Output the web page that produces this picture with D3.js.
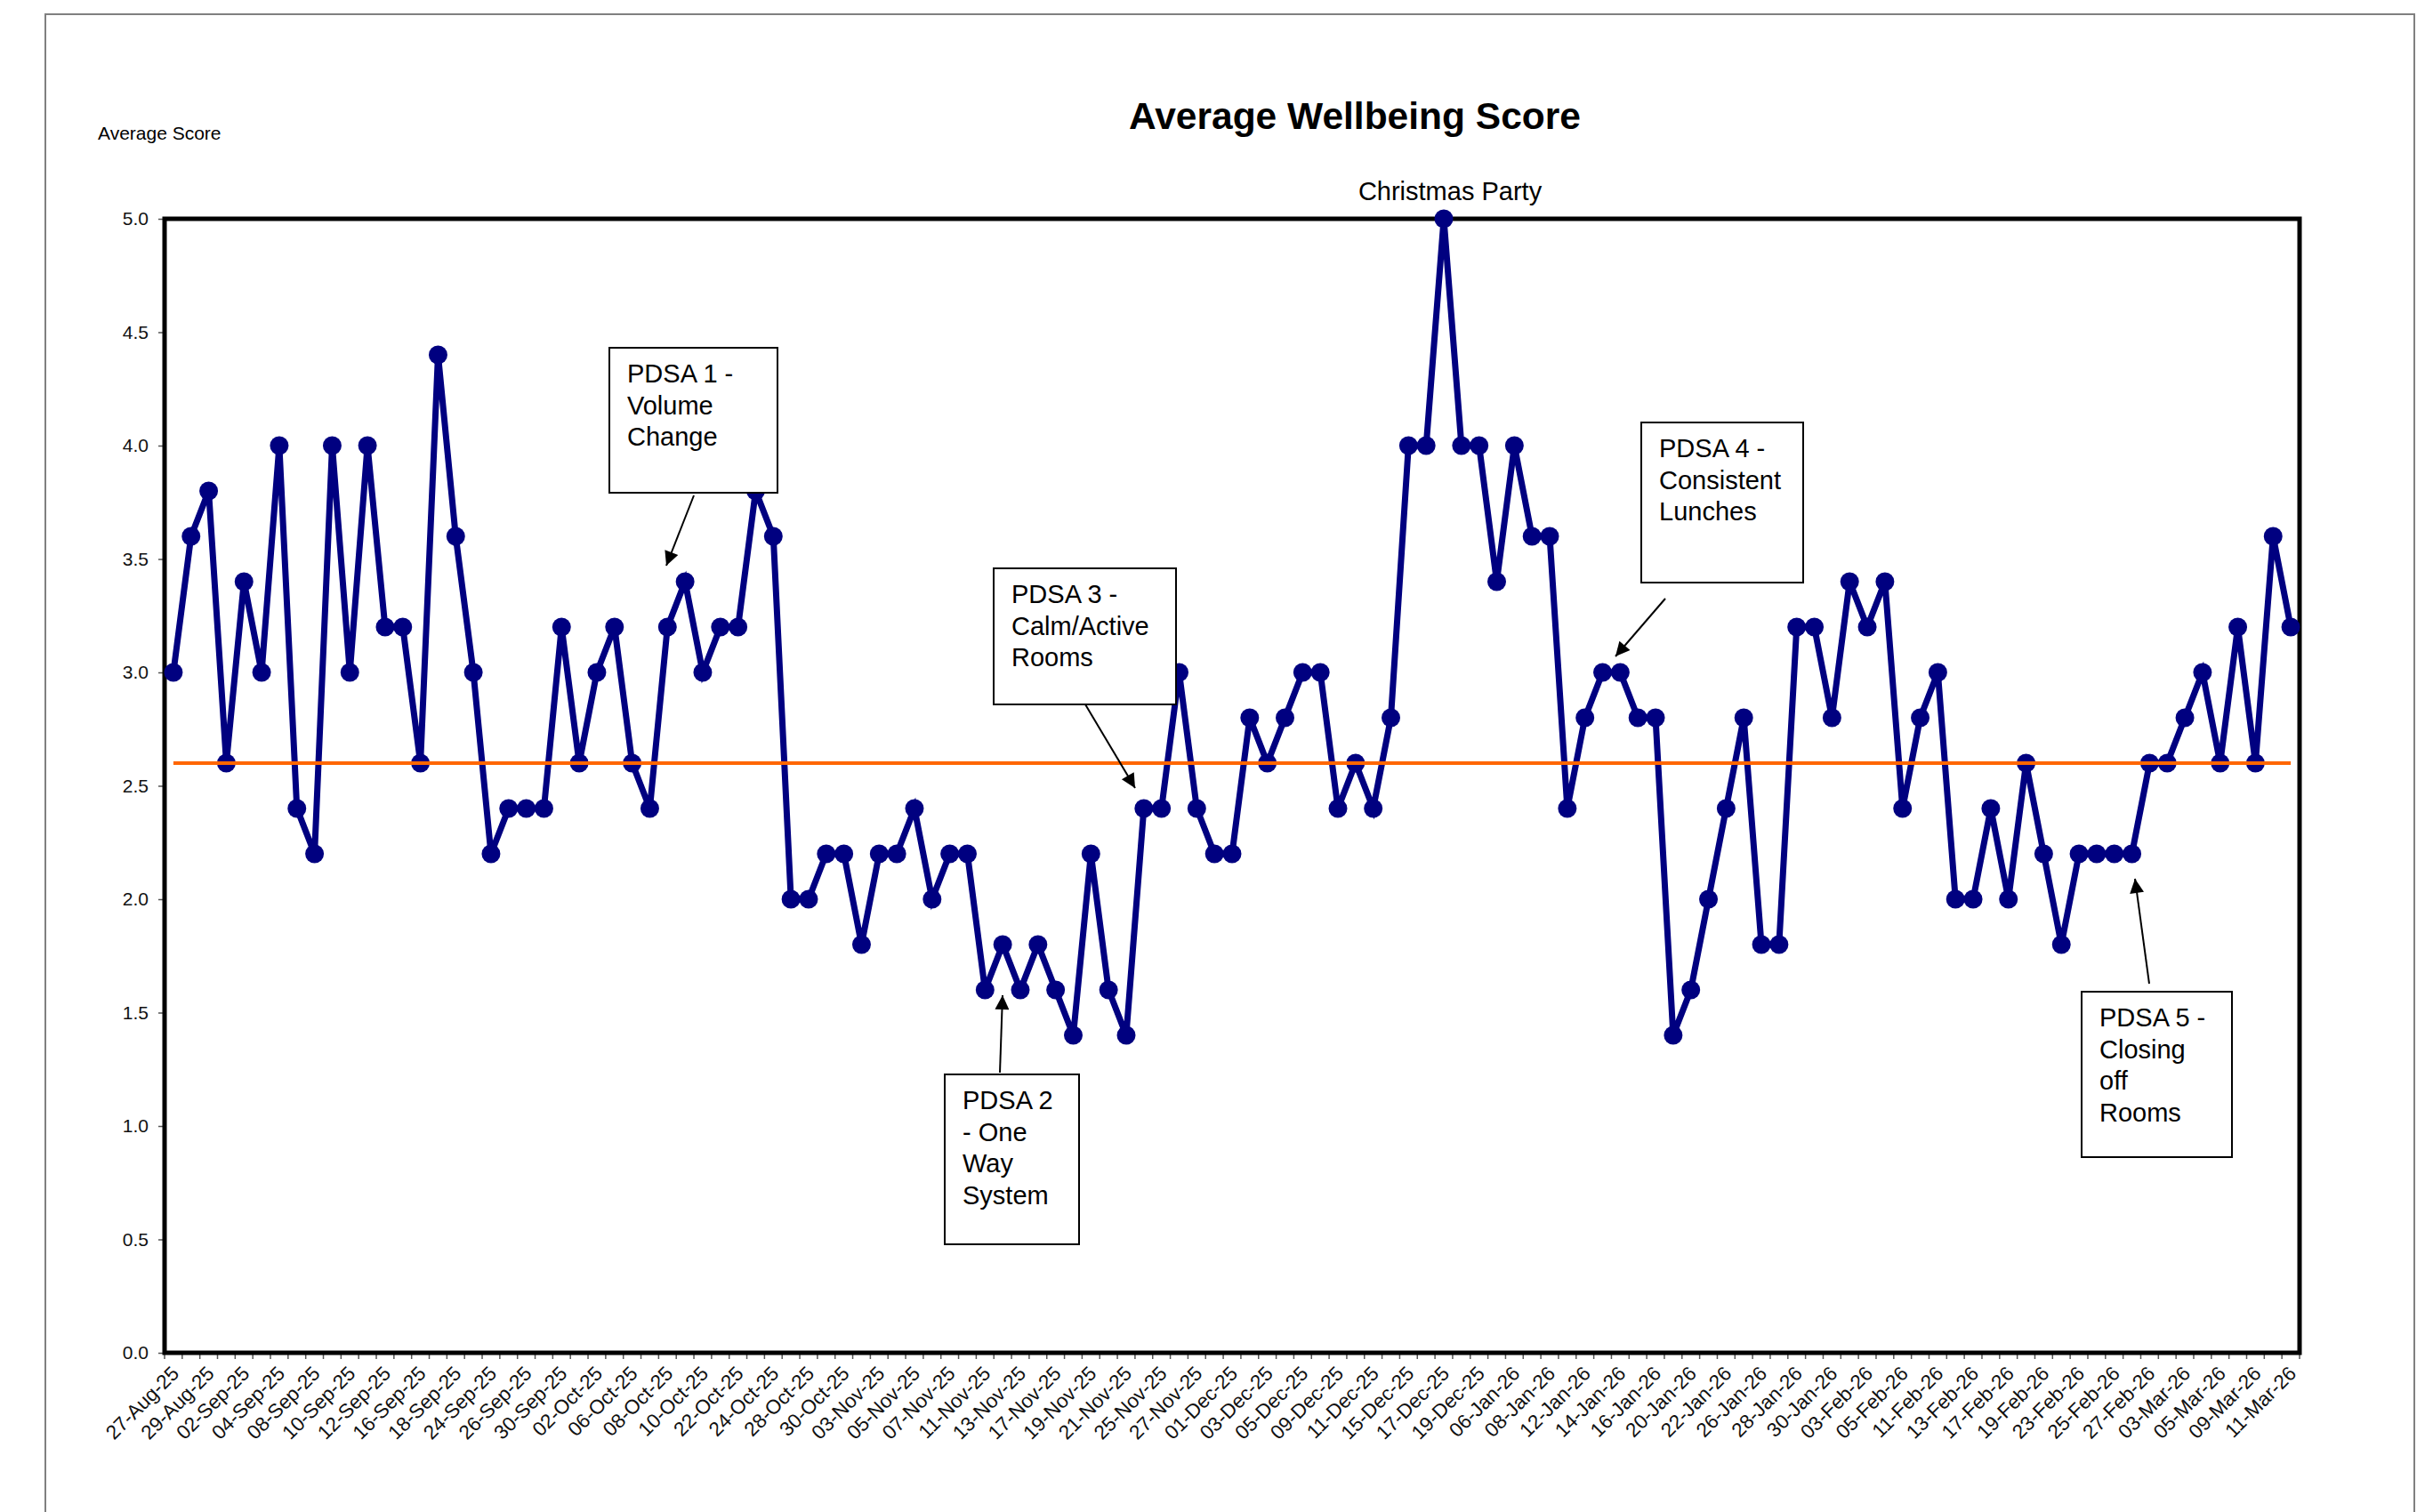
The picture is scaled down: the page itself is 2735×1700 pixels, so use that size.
<!DOCTYPE html>
<html>
<head>
<meta charset="utf-8">
<script src="https://cdn.jsdelivr.net/npm/d3@7"></script>
<style>
html,body{margin:0;padding:0;background:#fff;}
svg{display:block;}
text{font-family:"Liberation Sans", Arial, sans-serif;}
</style>
</head>
<body>
<svg id="chart" width="2735" height="1700"></svg>
<script>
// ---------------- DATA ----------------
const dates = ["27-Aug-25","28-Aug-25","29-Aug-25","01-Sep-25","02-Sep-25","03-Sep-25","04-Sep-25","05-Sep-25","08-Sep-25","09-Sep-25","10-Sep-25","11-Sep-25","12-Sep-25","15-Sep-25","16-Sep-25","17-Sep-25","18-Sep-25","23-Sep-25","24-Sep-25","25-Sep-25","26-Sep-25","29-Sep-25","30-Sep-25","01-Oct-25","02-Oct-25","03-Oct-25","06-Oct-25","07-Oct-25","08-Oct-25","09-Oct-25","10-Oct-25","21-Oct-25","22-Oct-25","23-Oct-25","24-Oct-25","27-Oct-25","28-Oct-25","29-Oct-25","30-Oct-25","31-Oct-25","03-Nov-25","04-Nov-25","05-Nov-25","06-Nov-25","07-Nov-25","10-Nov-25","11-Nov-25","12-Nov-25","13-Nov-25","14-Nov-25","17-Nov-25","18-Nov-25","19-Nov-25","20-Nov-25","21-Nov-25","24-Nov-25","25-Nov-25","26-Nov-25","27-Nov-25","28-Nov-25","01-Dec-25","02-Dec-25","03-Dec-25","04-Dec-25","05-Dec-25","08-Dec-25","09-Dec-25","10-Dec-25","11-Dec-25","12-Dec-25","15-Dec-25","16-Dec-25","17-Dec-25","18-Dec-25","19-Dec-25","05-Jan-26","06-Jan-26","07-Jan-26","08-Jan-26","09-Jan-26","12-Jan-26","13-Jan-26","14-Jan-26","15-Jan-26","16-Jan-26","19-Jan-26","20-Jan-26","21-Jan-26","22-Jan-26","23-Jan-26","26-Jan-26","27-Jan-26","28-Jan-26","29-Jan-26","30-Jan-26","02-Feb-26","03-Feb-26","04-Feb-26","05-Feb-26","10-Feb-26","11-Feb-26","12-Feb-26","13-Feb-26","16-Feb-26","17-Feb-26","18-Feb-26","19-Feb-26","20-Feb-26","23-Feb-26","24-Feb-26","25-Feb-26","26-Feb-26","27-Feb-26","02-Mar-26","03-Mar-26","04-Mar-26","05-Mar-26","06-Mar-26","09-Mar-26","10-Mar-26","11-Mar-26"];

const scores = [
  3.0,3.6,3.8,2.6,3.4,3.0,4.0,2.4,2.2,4.0,3.0,4.0,3.2,3.2,2.6,4.4,3.6,3.0,2.2,2.4,2.4,2.4,3.2,2.6,3.0,3.2,2.6,2.4,3.2,3.4,3.0,
  3.2,3.2,3.8,3.6,2.0,2.0,2.2,2.2,1.8,2.2,2.2,2.4,2.0,2.2,2.2,1.6,1.8,1.6,1.8,1.6,1.4,2.2,1.6,1.4,2.4,2.4,3.0,2.4,2.2,2.2,
  2.8,2.6,2.8,3.0,3.0,2.4,2.6,2.4,2.8,4.0,4.0,5.0,4.0,4.0,3.4,4.0,3.6,3.6,2.4,2.8,3.0,3.0,2.8,2.8,1.4,1.6,2.0,2.4,2.8,1.8,
  1.8,3.2,3.2,2.8,3.4,3.2,3.4,2.4,2.8,3.0,2.0,2.0,2.4,2.0,2.6,2.2,1.8,2.2,2.2,2.2,2.2,2.6,2.6,2.8,3.0,2.6,3.2,2.6,3.6,3.2
];

const meanScore = 2.6;
const yTicks = [0,0.5,1.0,1.5,2.0,2.5,3.0,3.5,4.0,4.5,5.0];
const labelledDates = dates.filter((d,i) => i % 2 === 0);

const titleText = "Average Wellbeing Score";
const yTitleText = "Average Score";
const peakNote = {date: "17-Dec-25", text: "Christmas Party"};

const annotations = [
  {lines:["PDSA 1 -","Volume","Change"],             box:[685,391,189,163],  from:[780,557],  to:[749,636]},
  {lines:["PDSA 2","- One","Way","System"],           box:[1062,1208,151,191], from:[1124,1206], to:[1127,1119]},
  {lines:["PDSA 3 -","Calm/Active","Rooms"],         box:[1117,639,205,153], from:[1220,792], to:[1276,886]},
  {lines:["PDSA 4 -","Consistent","Lunches"],        box:[1845,475,182,180], from:[1872,673], to:[1816,738]},
  {lines:["PDSA 5 -","Closing","off","Rooms"],        box:[2340,1115,169,186], from:[2416,1106], to:[2400,988]}
];

// ---------------- LAYOUT ----------------
const plot = {left:185, right:2585, top:246, bottom:1521};

const svg = d3.select("#chart");

// outer frame
svg.append("rect")
  .attr("x",51).attr("y",16).attr("width",2663).attr("height",1800)
  .attr("fill","#fff").attr("stroke","#808080").attr("stroke-width",2);

const x = d3.scaleBand().domain(dates).range([plot.left, plot.right]).padding(0);
const y = d3.scaleLinear().domain([0,5]).range([plot.bottom, plot.top]);
const cx = d => x(d) + x.bandwidth()/2;

const defs = svg.append("defs");
defs.append("marker").attr("id","arrowBig")
  .attr("viewBox","0 0 10 10").attr("refX",10).attr("refY",5)
  .attr("markerWidth",20).attr("markerHeight",16).attr("markerUnits","userSpaceOnUse")
  .attr("orient","auto")
  .append("path").attr("d","M0,0 L10,5 L0,10 Z").attr("fill","#000");

// Title
svg.append("text").attr("x",1523).attr("y",145).attr("text-anchor","middle")
  .attr("font-size",42.5).attr("font-weight","bold").attr("fill","#000").text(titleText);

// Y title
svg.append("text").attr("x",110).attr("y",157)
  .attr("font-size",21).attr("fill","#000").text(yTitleText);

// Y axis
const yAxis = d3.axisLeft(y).tickValues(yTicks).tickFormat(d3.format(".1f")).tickSize(7).tickPadding(11);
const gy = svg.append("g").attr("transform",`translate(${plot.left},0)`).call(yAxis);
gy.select(".domain").remove();
gy.selectAll(".tick line").attr("stroke","#555").attr("stroke-width",1.5);
gy.selectAll(".tick text").attr("font-size",21).attr("font-family","Liberation Sans, Arial, sans-serif").attr("fill","#111");

// X ticks at category boundaries
const boundaries = dates.map(d => x(d)).concat([x(dates[dates.length-1]) + x.bandwidth()]);
svg.append("g").selectAll("line").data(boundaries).join("line")
  .attr("x1",d=>d).attr("x2",d=>d).attr("y1",plot.bottom).attr("y2",plot.bottom+7)
  .attr("stroke","#555").attr("stroke-width",1.5);

// X labels
svg.append("g").selectAll("text").data(labelledDates).join("text")
  .attr("transform", d => `translate(${cx(d)+2},${plot.bottom+19}) rotate(-45)`)
  .attr("text-anchor","end").attr("dy","0.35em")
  .attr("font-size",22.5).attr("fill","#111").text(d=>d);

// Plot border
svg.append("rect").attr("x",plot.left).attr("y",plot.top)
  .attr("width",plot.right-plot.left).attr("height",plot.bottom-plot.top)
  .attr("fill","none").attr("stroke","#000").attr("stroke-width",5);

// Series line
const line = d3.line().x((d,i)=>cx(dates[i])).y(d=>y(d));
svg.append("path").datum(scores).attr("d",line)
  .attr("fill","none").attr("stroke","#000080").attr("stroke-width",7).attr("stroke-linejoin","miter");

svg.append("g").selectAll("circle").data(scores).join("circle")
  .attr("cx",(d,i)=>cx(dates[i])).attr("cy",d=>y(d)).attr("r",10.5).attr("fill","#000080");

// Mean line
svg.append("line")
  .attr("x1",cx(dates[0])).attr("x2",cx(dates[dates.length-1]))
  .attr("y1",y(meanScore)).attr("y2",y(meanScore))
  .attr("stroke","#FF6600").attr("stroke-width",4);

// Peak note
svg.append("text").attr("x",cx(peakNote.date)+7).attr("y",225).attr("text-anchor","middle")
  .attr("font-size",29).attr("fill","#000").text(peakNote.text);

// Annotations
annotations.forEach(a => {
  const [bx,by,bw,bh] = a.box;
  const g = svg.append("g");
  g.append("rect").attr("x",bx).attr("y",by).attr("width",bw).attr("height",bh)
    .attr("fill","#fff").attr("stroke","#000").attr("stroke-width",2);
  a.lines.forEach((t,i) => {
    g.append("text").attr("x",bx+20).attr("y",by+39+i*35.5)
      .attr("font-size",29).attr("fill","#000").text(t);
  });
  g.append("line").attr("x1",a.from[0]).attr("y1",a.from[1]).attr("x2",a.to[0]).attr("y2",a.to[1])
    .attr("stroke","#000").attr("stroke-width",2).attr("marker-end","url(#arrowBig)");
});
</script>
</body>
</html>
